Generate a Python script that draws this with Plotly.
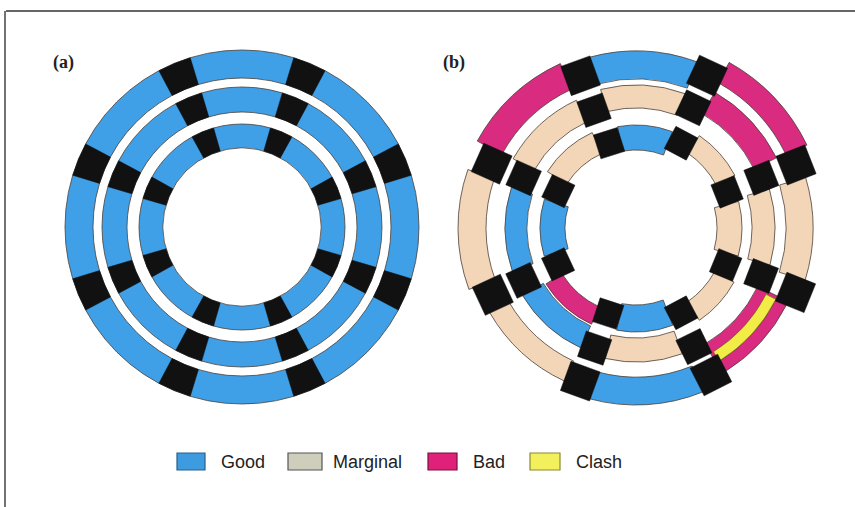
import math
import plotly.graph_objects as go

W, H = 855, 507

# ---------------- data ----------------
legend_labels = ["Good", "Marginal", "Bad", "Clash"]
fill_colors = {"Good": "#3fa0e8", "Marginal": "#f3d5b7", "Bad": "#d92b80", "Clash": "#f1ec46"}
swatch_colors = ["#3d9be0", "#cfcebd", "#df2179", "#f3f05e"]
swatch_edges = ["#2a5f8a", "#555555", "#7a1040", "#8a8a30"]
block_color = "#111111"

ring_names = ["outer", "middle", "inner"]

# panel (a): aligned rings, 8 segments each
a_ring_inner = [149, 115, 79]
a_ring_outer = [177, 140, 103]
a_segment_theta = [0, 45, 90, 135, 180, 225, 270, 315]
a_block_theta = [22.5, 67.5, 112.5, 157.5, 202.5, 247.5, 292.5, 337.5]
a_block_width_deg = [11.0, 11.5, 13.0]
a_status = [
    ["Good", "Good", "Good", "Good", "Good", "Good", "Good", "Good"],
    ["Good", "Good", "Good", "Good", "Good", "Good", "Good", "Good"],
    ["Good", "Good", "Good", "Good", "Good", "Good", "Good", "Good"],
]

# panel (b): displaced segments; segment k lies between block k and block k+1
b_block_theta = [
    [21.5, 65, 110, 156, 205, 250, 297, 338],
    [21.8, 64.6, 109.6, 156, 205, 251, 296, 339],
    [21.6, 62, 107.6, 154.6, 205, 252, 298, 337.6],
]
b_block_r = [
    [172, 168, 162, 158, 158, 163, 165, 172],
    [135, 133, 125, 123, 124, 127, 132, 134],
    [98, 96, 89, 86, 86, 90, 96, 97],
]
b_block_size = [31, 27, 25]
b_status = [
    ["Bad", "Good", "Bad", "Marginal", "Marginal", "Good", "Bad", "Marginal"],
    ["Bad", "Marginal", "Marginal", "Good", "Good", "Marginal", "Bad", "Marginal"],
    ["Marginal", "Good", "Marginal", "Good", "Bad", "Good", "Marginal", "Marginal"],
]
b_seg_inner = [
    [167, 149, 153, 150, 147, 149, 146, 150],
    [132, 120, 117, 109, 108, 110, 135, 116],
    [91, 78, 82, 71, 87, 77, 90, 81],
]
b_seg_outer = [
    [190, 177, 181, 178, 169, 177, 169, 177],
    [157, 143, 141, 131, 132, 134, 157, 139],
    [112, 103, 105, 96, 106, 104, 112, 106],
]
clash_segment_index = 6  # overlap of outer and middle ring segment

# ---------------- helpers ----------------
def px_x(x):
    return x / W


def px_y(y):
    return 1 - y / H


def polar_domain(cx, cy, R):
    return dict(x=[px_x(cx - R), px_x(cx + R)], y=[px_y(cy + R), px_y(cy - R)])


R_MAX = 200
fig = go.Figure()
seg_line = dict(color="#4a4038", width=0.8)

# ---------- panel (a) ----------
for i, ring in enumerate(ring_names):
    fig.add_trace(go.Barpolar(
        theta=a_segment_theta,
        r=[a_ring_outer[i] - a_ring_inner[i]] * len(a_segment_theta),
        base=a_ring_inner[i],
        width=45,
        marker=dict(color=[fill_colors[s] for s in a_status[i]], line=seg_line),
        subplot="polar", showlegend=False, hoverinfo="skip"))
for i, ring in enumerate(ring_names):
    fig.add_trace(go.Barpolar(
        theta=a_block_theta,
        r=[a_ring_outer[i] - a_ring_inner[i]] * len(a_block_theta),
        base=a_ring_inner[i],
        width=a_block_width_deg[i],
        marker=dict(color=block_color, line=dict(color=block_color, width=0.5)),
        subplot="polar", showlegend=False, hoverinfo="skip"))

# ---------- panel (b) ----------
def seg_span(i, k):
    t0 = b_block_theta[i][k]
    t1 = b_block_theta[i][(k + 1) % 8]
    if t1 < t0:
        t1 += 360
    rmid = (b_seg_inner[i][k] + b_seg_outer[i][k]) / 2
    h = math.degrees((b_block_size[i] / 2) / rmid)
    return t0 + h - 0.6, t1 - h + 0.6


for i, ring in enumerate(ring_names):
    thetas, widths, rs, bases, cols = [], [], [], [], []
    for k in range(8):
        s, e = seg_span(i, k)
        thetas.append((s + e) / 2)
        widths.append(e - s)
        bases.append(b_seg_inner[i][k])
        rs.append(b_seg_outer[i][k] - b_seg_inner[i][k])
        cols.append(fill_colors[b_status[i][k]])
    fig.add_trace(go.Barpolar(
        theta=thetas, r=rs, base=bases, width=widths,
        marker=dict(color=cols, line=seg_line),
        subplot="polar2", showlegend=False, hoverinfo="skip"))

# clash region: overlap between outer and middle segment
k = clash_segment_index
s0, e0 = seg_span(0, k)
s1, e1 = seg_span(1, k)
cs, ce = max(s0, s1), min(e0, e1)
c_in = max(b_seg_inner[0][k], b_seg_inner[1][k])
c_out = min(b_seg_outer[0][k], b_seg_outer[1][k])
fig.add_trace(go.Barpolar(
    theta=[(cs + ce) / 2], r=[c_out - c_in], base=[c_in], width=[ce - cs],
    marker=dict(color=fill_colors["Clash"], line=dict(color="#6a6020", width=0.6)),
    subplot="polar2", showlegend=False, hoverinfo="skip"))

# blocks as squares
for i, ring in enumerate(ring_names):
    for t, rc in zip(b_block_theta[i], b_block_r[i]):
        a = math.radians(t)
        cx, cy = rc * math.cos(a), rc * math.sin(a)
        ux, uy = math.cos(a), math.sin(a)
        vx, vy = -math.sin(a), math.cos(a)
        h = b_block_size[i] / 2
        pts = []
        for su, sv in [(-1, -1), (1, -1), (1, 1), (-1, 1), (-1, -1)]:
            x = cx + su * h * ux + sv * h * vx
            y = cy + su * h * uy + sv * h * vy
            pts.append((math.hypot(x, y), math.degrees(math.atan2(y, x))))
        fig.add_trace(go.Scatterpolar(
            r=[p[0] for p in pts], theta=[p[1] for p in pts],
            mode="lines", fill="toself", fillcolor=block_color,
            line=dict(color=block_color, width=0.5),
            subplot="polar2", showlegend=False, hoverinfo="skip"))

polar_common = dict(
    bgcolor="rgba(0,0,0,0)",
    bargap=0,
    radialaxis=dict(visible=False, range=[0, R_MAX]),
    angularaxis=dict(visible=False, rotation=0, direction="counterclockwise"),
)

shapes = [
    dict(type="line", xref="paper", yref="paper", x0=px_x(6), x1=1.0, y0=px_y(11), y1=px_y(11),
         line=dict(color="#333333", width=1.5)),
    dict(type="line", xref="paper", yref="paper", x0=px_x(5), x1=px_x(5), y0=px_y(11), y1=0,
         line=dict(color="#444444", width=1.5)),
]
annotations = [
    dict(text="<b>(a)</b>", x=px_x(51), y=px_y(63), xref="paper", yref="paper",
         xanchor="left", yanchor="middle", showarrow=False,
         font=dict(family="Liberation Serif", size=18, color="#222222")),
    dict(text="<b>(b)</b>", x=px_x(441), y=px_y(63), xref="paper", yref="paper",
         xanchor="left", yanchor="middle", showarrow=False,
         font=dict(family="Liberation Serif", size=18, color="#222222")),
]

# legend (drawn as swatches + labels)
swatch_x = [177, 288, 428, 530]
swatch_w = [28, 34, 29, 30]
label_x = [219, 331, 471, 574]
for j, lab in enumerate(legend_labels):
    shapes.append(dict(type="rect", xref="paper", yref="paper",
                       x0=px_x(swatch_x[j]), x1=px_x(swatch_x[j] + swatch_w[j]),
                       y0=px_y(470), y1=px_y(453),
                       fillcolor=swatch_colors[j], line=dict(color=swatch_edges[j], width=1.2)))
    annotations.append(dict(text=lab, x=px_x(label_x[j]), y=px_y(461.5), xref="paper", yref="paper",
                            xanchor="left", yanchor="middle", showarrow=False,
                            font=dict(family="Liberation Sans", size=18, color="#222222")))

fig.update_layout(
    width=W, height=H,
    margin=dict(l=0, r=0, t=0, b=0),
    paper_bgcolor="white", plot_bgcolor="white",
    polar=dict(domain=polar_domain(242, 227, R_MAX), **polar_common),
    polar2=dict(domain=polar_domain(636, 228, R_MAX), **polar_common),
    shapes=shapes, annotations=annotations,
    showlegend=False,
)

fig.write_html("out.html", config={"displayModeBar": False},
               post_script="document.body.style.margin='0';")
